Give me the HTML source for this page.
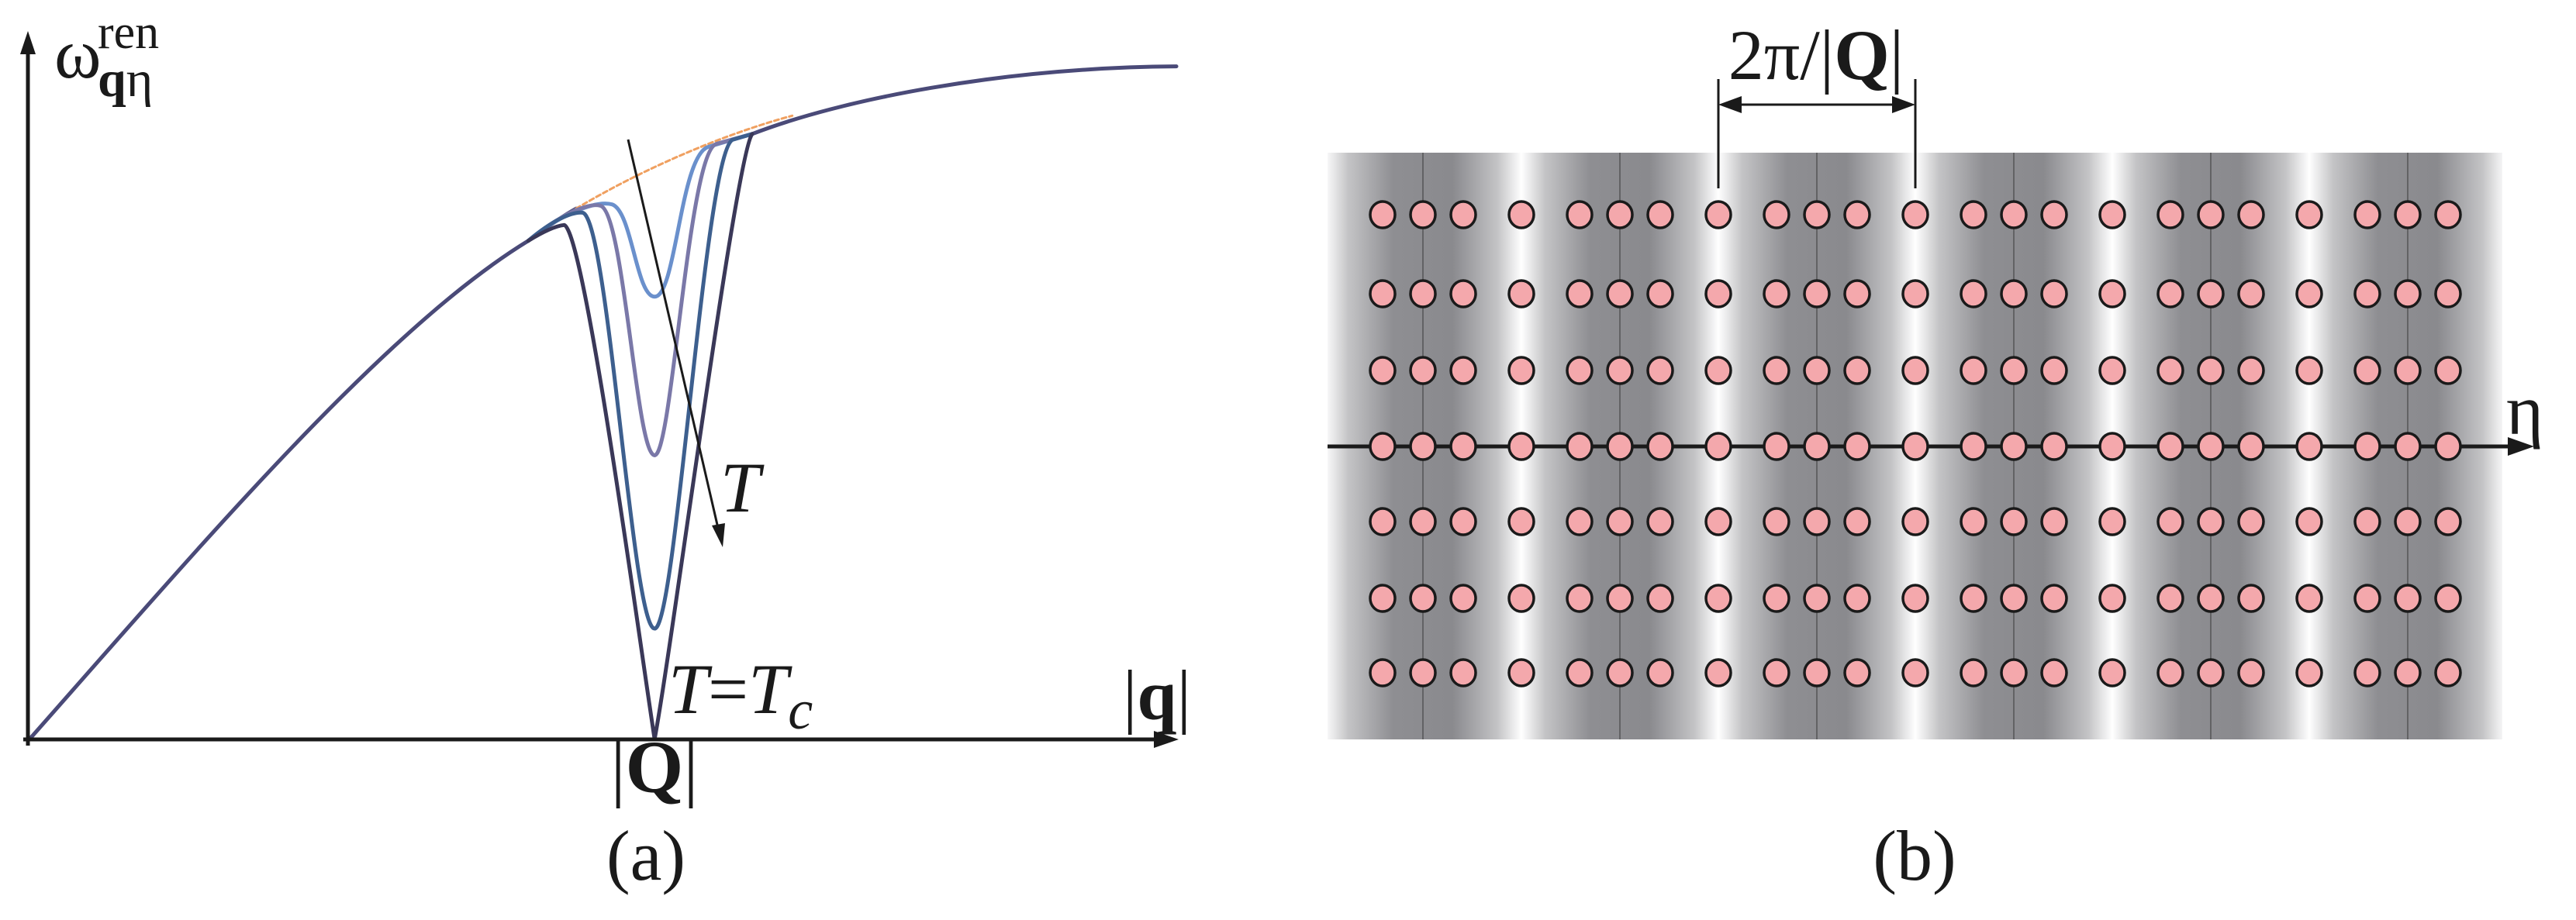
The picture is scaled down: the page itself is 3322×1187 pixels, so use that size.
<!DOCTYPE html>
<html><head><meta charset="utf-8"><style>
html,body{margin:0;padding:0;background:#fff;}
svg{display:block;}
text{font-family:"Liberation Serif",serif;fill:#1a1a1a;}
</style></head><body>
<svg width="3322" height="1187" viewBox="0 0 3322 1187" xmlns="http://www.w3.org/2000/svg">
<defs>
<linearGradient id="stripe" x1="1708" y1="0" x2="1962" y2="0" gradientUnits="userSpaceOnUse" spreadMethod="repeat">
<stop offset="0" stop-color="#ffffff"/>
<stop offset="0.12" stop-color="#c4c4c6"/>
<stop offset="0.35" stop-color="#8e8e92"/>
<stop offset="0.65" stop-color="#8a8a8e"/>
<stop offset="0.88" stop-color="#c4c4c6"/>
<stop offset="1" stop-color="#ffffff"/>
</linearGradient>
</defs>

<!-- Panel (a) -->
<g transform="scale(1.032,0.758)" fill="none" stroke-linecap="round">
<path d="M660,410 Q700,370 720,355" stroke="#5a5a88" stroke-width="5" vector-effect="non-scaling-stroke"/>
<path d="M720,355 C800,290 900,230 990,197" stroke="#f0a060" stroke-width="3" stroke-dasharray="6,4" vector-effect="non-scaling-stroke"/>
<path d="M37,1258 C250,930 480,560 660,410" stroke="#4a4a78" stroke-width="5" vector-effect="non-scaling-stroke"/>
<path d="M940,228 C1050,170 1250,115 1470,113" stroke="#4a4a78" stroke-width="5" vector-effect="non-scaling-stroke"/>
<path d="M660,410 C700,365 745,340 765,348 C790,360 795,505 818,505 C845,505 850,265 885,250 L940,228" stroke="#6a90cc" stroke-width="5" vector-effect="non-scaling-stroke"/>
<path d="M660,410 C700,365 735,345 750,350 C780,360 795,775 818,775 C840,775 860,260 895,245 L940,228" stroke="#7a78a8" stroke-width="5" vector-effect="non-scaling-stroke"/>
<path d="M660,410 C690,375 715,360 728,362 C760,370 790,1070 818,1070 C845,1070 880,270 915,238 L940,228" stroke="#3d5f8e" stroke-width="5" vector-effect="non-scaling-stroke"/>
<path d="M660,410 Q690,385 705,383 C730,390 800,1100 818,1258 C840,1100 920,260 940,228" stroke="#3a3858" stroke-width="5" vector-effect="non-scaling-stroke"/>
</g>
<line x1="36" y1="962" x2="36" y2="62" stroke="#1a1a1a" stroke-width="5"/>
<polygon points="36,40 26,70 46,70" fill="#1a1a1a"/>
<line x1="30" y1="954" x2="1490" y2="954" stroke="#1a1a1a" stroke-width="5"/>
<polygon points="1520,954 1488,943 1488,965" fill="#1a1a1a"/>
<line x1="810" y1="180" x2="928" y2="690" stroke="#1a1a1a" stroke-width="3"/>
<polygon points="932,706 918,678 935,675" fill="#1a1a1a"/>

<text x="70" y="100" font-size="92">ω</text>
<text x="126" y="62" font-size="62">ren</text>
<text x="126" y="124" font-size="66"><tspan font-weight="bold">q</tspan>η</text>
<text x="929" y="660" font-size="92" font-style="italic">T</text>
<text x="862" y="920" font-size="92"><tspan font-style="italic">T</tspan>=<tspan font-style="italic">T</tspan><tspan font-style="italic" font-size="72" dy="20">c</tspan></text>
<text x="1448" y="928" font-size="92">|<tspan font-weight="bold">q</tspan>|</text>
<text x="844" y="1022" font-size="96" text-anchor="middle">|<tspan font-weight="bold">Q</tspan>|</text>
<text x="833" y="1135" font-size="92" text-anchor="middle">(a)</text>

<!-- Panel (b) -->
<rect x="1712" y="197" width="1515" height="757" fill="url(#stripe)"/>
<g stroke="#555" stroke-width="1.5">
<line x1="1835" y1="197" x2="1835" y2="954"/>
<line x1="2089" y1="197" x2="2089" y2="954"/>
<line x1="2343" y1="197" x2="2343" y2="954"/>
<line x1="2597" y1="197" x2="2597" y2="954"/>
<line x1="2851" y1="197" x2="2851" y2="954"/>
<line x1="3105" y1="197" x2="3105" y2="954"/>
</g>
<line x1="1712" y1="576" x2="3235" y2="576" stroke="#1a1a1a" stroke-width="5"/>
<polygon points="3268,576 3234,564 3234,588" fill="#1a1a1a"/>
<g id="dots" fill="#f4a8ac" stroke="#1a1a1a" stroke-width="3.5"></g>

<line x1="2216" y1="102" x2="2216" y2="243" stroke="#1a1a1a" stroke-width="3"/>
<line x1="2470" y1="102" x2="2470" y2="243" stroke="#1a1a1a" stroke-width="3"/>
<line x1="2234" y1="135" x2="2452" y2="135" stroke="#1a1a1a" stroke-width="3"/>
<polygon points="2216,135 2246,124 2246,146" fill="#1a1a1a"/>
<polygon points="2470,135 2440,124 2440,146" fill="#1a1a1a"/>
<text x="2342" y="102" font-size="92" text-anchor="middle">2π/|<tspan font-weight="bold">Q</tspan>|</text>
<text x="3232" y="560" font-size="92">η</text>
<text x="2469" y="1135" font-size="92" text-anchor="middle">(b)</text>
</svg>
<script>
(function(){
var g=document.getElementById('dots');var ns='http://www.w3.org/2000/svg';
var rows=[277,379,478,576,673,772,868];var xs=[];
for(var k=0;k<6;k++){var c=1835+254*k;xs.push(c-52,c,c+52);if(k<5)xs.push(c+127);}
rows.forEach(function(y){xs.forEach(function(x){var e=document.createElementNS(ns,'ellipse');
e.setAttribute('cx',x);e.setAttribute('cy',y);e.setAttribute('rx',16);e.setAttribute('ry',17);g.appendChild(e);});});
})();
</script>
</body></html>
